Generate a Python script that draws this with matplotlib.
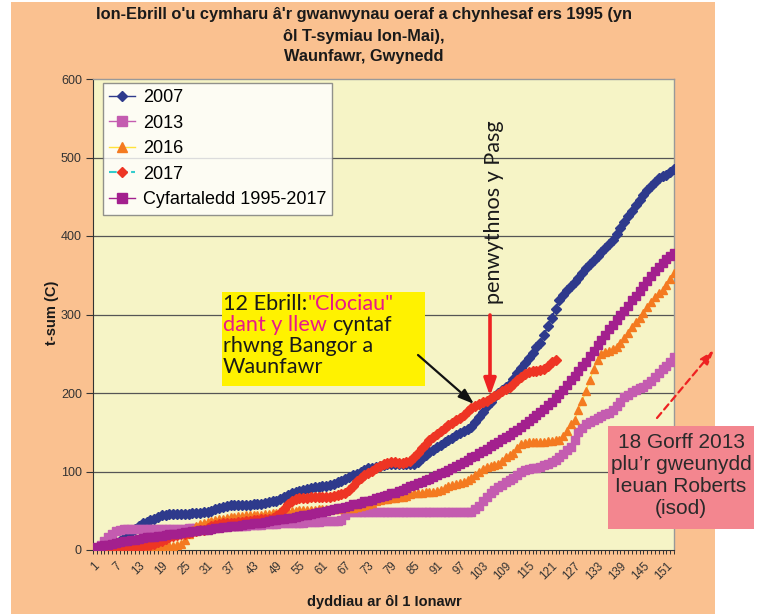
import numpy as np
import matplotlib
matplotlib.use("Agg")
import matplotlib.pyplot as plt
from matplotlib.lines import Line2D
from matplotlib.patches import Rectangle, FancyArrowPatch

W, H = 764, 614

# ---------------- data (t-sum, deg C, per day after 1 Jan) ----------------
days = list(range(1, 154))

tsum_2007 = [
    0, 1, 2, 3, 4, 6, 8, 11, 15, 19,
    23, 27, 31, 34, 36, 38, 40, 42, 44, 45,
    46, 46, 46, 46, 46, 46, 47, 47, 47, 48,
    49, 50, 52, 54, 55, 56, 57, 57, 57, 57,
    57, 57, 58, 58, 59, 60, 61, 62, 63, 65,
    67, 70, 72, 74, 75, 77, 78, 79, 80, 80,
    81, 82, 83, 84, 86, 88, 90, 93, 95, 97,
    100, 102, 104, 105, 106, 107, 108, 109, 110, 110,
    110, 109, 109, 109, 110, 112, 117, 121, 125, 128,
    131, 134, 137, 140, 143, 146, 149, 151, 154, 157,
    163, 170, 176, 183, 189, 195, 200, 204, 208, 212,
    218, 225, 232, 238, 245, 251, 258, 264, 274, 285,
    296, 307, 318, 325, 331, 336, 342, 347, 353, 359,
    364, 370, 375, 380, 385, 390, 395, 402, 410, 418,
    425, 432, 439, 446, 452, 459, 464, 469, 474, 476,
    478, 481, 485]

tsum_2013 = [
    0, 3, 7, 12, 17, 21, 24, 26, 27, 27,
    27, 27, 27, 27, 27, 27, 27, 27, 27, 27,
    27, 27, 27, 27, 27, 28, 28, 28, 28, 29,
    29, 29, 29, 30, 30, 30, 30, 31, 31, 31,
    31, 32, 32, 32, 32, 33, 33, 33, 33, 34,
    34, 34, 35, 35, 35, 35, 36, 36, 36, 36,
    37, 37, 37, 37, 37, 38, 44, 48, 48, 48,
    48, 48, 48, 48, 48, 48, 48, 48, 48, 48,
    48, 48, 48, 48, 48, 48, 48, 48, 48, 48,
    48, 48, 48, 48, 48, 48, 48, 48, 48, 49,
    52, 56, 62, 68, 72, 76, 80, 83, 86, 89,
    92, 96, 100, 102, 103, 104, 105, 106, 108, 110,
    112, 115, 118, 122, 127, 131, 140, 150, 156, 160,
    163, 166, 168, 171, 173, 175, 178, 183, 189, 195,
    198, 201, 204, 207, 208, 211, 215, 220, 225, 230,
    235, 240, 246]

tsum_2016 = [
    0, 0, 0, 0, 0, 0, 0, 1, 1, 1,
    2, 2, 2, 3, 3, 3, 4, 4, 4, 5,
    5, 5, 6, 8, 13, 20, 26, 30, 33, 35,
    36, 37, 38, 39, 40, 41, 42, 42, 43, 43,
    44, 44, 44, 45, 45, 46, 46, 47, 47, 48,
    48, 49, 50, 50, 51, 51, 51, 51, 51, 52,
    52, 52, 52, 52, 52, 53, 53, 53, 54, 55,
    56, 57, 58, 60, 62, 64, 65, 65, 66, 66,
    67, 68, 69, 71, 73, 73, 73, 74, 74, 74,
    75, 77, 79, 81, 83, 84, 85, 87, 89, 92,
    96, 100, 103, 106, 107, 108, 110, 114, 118, 121,
    124, 130, 135, 136, 137, 137, 138, 138, 138, 139,
    139, 140, 140, 145, 152, 160, 166, 178, 190, 203,
    217, 230, 242, 250, 252, 254, 256, 259, 264, 270,
    277, 284, 290, 296, 302, 310, 316, 322, 327, 331,
    338, 345, 353]

days_2017 = list(range(1, 123))
tsum_2017 = [
    0, 0, 0, 0, 0, 0, 0, 0, 1, 1,
    2, 3, 4, 5, 6, 7, 8, 10, 12, 14,
    16, 18, 19, 20, 21, 22, 23, 24, 25, 26,
    28, 30, 32, 33, 34, 34, 35, 35, 36, 36,
    37, 37, 38, 38, 39, 39, 40, 41, 43, 47,
    52, 58, 63, 65, 66, 66, 66, 67, 67, 67,
    67, 68, 68, 69, 70, 71, 73, 76, 82, 88,
    92, 95, 98, 101, 104, 107, 110, 111, 112, 112,
    111, 111, 112, 114, 119, 124, 130, 135, 140, 144,
    148, 152, 156, 159, 162, 165, 168, 172, 177, 181,
    184, 186, 188, 190, 193, 196, 199, 202, 205, 208,
    212, 216, 220, 224, 227, 228, 228, 229, 231, 235,
    239, 242]

tsum_avg = [
    3, 4, 5, 6, 7, 8, 9, 10, 11, 12,
    13, 13, 14, 15, 16, 16, 17, 18, 18, 19,
    20, 21, 21, 22, 23, 23, 24, 24, 25, 26,
    26, 27, 28, 28, 29, 29, 30, 31, 31, 32,
    33, 33, 34, 35, 35, 36, 37, 38, 38, 39,
    40, 41, 41, 42, 43, 44, 45, 46, 47, 48,
    49, 50, 51, 52, 53, 54, 55, 56, 58, 59,
    60, 62, 63, 64, 66, 67, 69, 70, 72, 73,
    75, 77, 79, 81, 83, 85, 87, 89, 91, 93,
    95, 98, 100, 102, 105, 107, 110, 112, 115, 118,
    120, 123, 126, 129, 132, 135, 138, 141, 144, 147,
    150, 153, 157, 160, 164, 168, 172, 176, 180, 185,
    189, 194, 199, 204, 210, 216, 222, 228, 234, 240,
    247, 254, 261, 268, 274, 281, 287, 293, 299, 305,
    311, 318, 324, 330, 336, 343, 349, 355, 360, 366,
    371, 375, 378]

series_labels = ["2007", "2013", "2016", "2017", "Cyfartaledd 1995-2017"]
x_tick_days = list(range(1, 152, 6))
y_ticks = [0, 100, 200, 300, 400, 500, 600]

# ---------------- styles ----------------
C07 = "#2E3A8C"
C13 = "#C45CB0"
C16_M = "#F47A20"
C16_L = "#FFE23A"
C17_M = "#EE3524"
C17_L = "#33CCCC"
CAVG = "#A3208E"
BG_ORANGE = "#FAC190"
BG_PLOT = "#F6F4C6"

def fx(px):
    return px / W

def fy(py):
    return 1 - py / H

fig = plt.figure(figsize=(W / 100, H / 100), dpi=100, facecolor="white")
fig.patches.append(Rectangle((fx(11), 0), fx(715) - fx(11), fy(2), transform=fig.transFigure,
                             facecolor=BG_ORANGE, edgecolor="none", zorder=-10))

ax = fig.add_axes([fx(93), fy(550), fx(674) - fx(93), fy(79) - fy(550)])
ax.set_facecolor(BG_PLOT)

ax.plot(days, tsum_2007, color=C07, lw=1.2, marker="D", ms=4.8, mfc=C07, mec=C07, zorder=3)
ax.plot(days, tsum_2013, color=C13, lw=1.2, marker="s", ms=5.8, mfc=C13, mec=C13, zorder=4)
ax.plot(days, tsum_2016, color=C16_L, lw=0.8, marker="^", ms=5.8, mfc=C16_M, mec=C16_M, zorder=5)
ax.plot(days_2017, tsum_2017, color=C17_L, lw=0.8, ls="--", marker="D", ms=4.6, mfc=C17_M, mec=C17_M, zorder=6)
ax.plot(days, tsum_avg, color=CAVG, lw=1.2, marker="s", ms=5.8, mfc=CAVG, mec=CAVG, zorder=7)

ax.set_xlim(1, 153)
ax.set_ylim(0, 600)
ax.set_yticks(y_ticks)
ax.set_yticklabels([str(v) for v in y_ticks], fontsize=9, color="#333333", family="Liberation Sans")
ax.set_xticks(x_tick_days)
ax.set_xticklabels([str(d) for d in x_tick_days], fontsize=8.3, color="#333333", family="Liberation Sans",
                   rotation=45, ha="right", va="top", rotation_mode="anchor")
ax.set_xticks(days, minor=True)
ax.tick_params(axis="x", which="both", direction="out", length=3, width=0.7, color="#333333", pad=4)
ax.tick_params(axis="y", direction="out", length=5, width=0.8, color="#333333", pad=3)
for y in y_ticks[1:-1]:
    ax.axhline(y, color="#555555", lw=0.9, zorder=1)
for s in ["top", "right"]:
    ax.spines[s].set_color("#999999")
    ax.spines[s].set_linewidth(1)
ax.spines["left"].set_color("#333333")
ax.spines["bottom"].set_color("#333333")

# title
title_lines = ["Ion-Ebrill o'u cymharu â'r gwanwynau oeraf a chynhesaf ers 1995 (yn",
               "ôl T-symiau Ion-Mai),",
               "Waunfawr, Gwynedd"]
for t, yy in zip(title_lines, [15, 36, 57]):
    fig.text(fx(364), fy(yy), t, ha="center", va="center", fontsize=11.8, fontweight="bold",
             family="Liberation Sans", color="#1a1a1a")

fig.text(fx(52), fy(313), "t-sum (C)", rotation=90, ha="center", va="center", fontsize=10.5,
         fontweight="bold", family="Liberation Sans", color="#1a1a1a")
fig.text(fx(384), fy(602), "dyddiau ar ôl 1 Ionawr", ha="center", va="center", fontsize=10.5,
         fontweight="bold", family="Liberation Sans", color="#1a1a1a")

# legend
handles = [
    Line2D([], [], color=C07, marker="D", ms=5, lw=1),
    Line2D([], [], color=C13, marker="s", ms=7, lw=1),
    Line2D([], [], color=C16_L, marker="^", ms=7, mfc=C16_M, mec=C16_M, lw=1),
    Line2D([], [], color=C17_L, ls="--", marker="D", ms=5, mfc=C17_M, mec=C17_M, lw=1.5),
    Line2D([], [], color=CAVG, marker="s", ms=7, lw=1),
]
leg = fig.legend(handles, series_labels, loc="upper left", bbox_to_anchor=(fx(103), fy(83)),
                 frameon=True, fancybox=False, prop={"family": "Liberation Sans", "size": 13},
                 handlelength=1.45, handletextpad=0.4, labelspacing=0.47, borderpad=0.35,
                 borderaxespad=0)
leg.get_frame().set_edgecolor("#777777")
leg.get_frame().set_linewidth(1)
leg.get_frame().set_facecolor("white")

# yellow annotation box with multi-coloured text
fig.patches.append(Rectangle((fx(222), fy(386)), fx(425) - fx(222), fy(292) - fy(386),
                             transform=fig.transFigure, facecolor="#FFF200", edgecolor="none", zorder=5))
renderer = fig.canvas.get_renderer()
BOXFONT = "Lato"
BOXSIZE = 15.6
MAG = "#E8198B"

def width_of(s):
    t = fig.text(0, 0, s, fontsize=BOXSIZE, family=BOXFONT)
    w = t.get_window_extent(renderer).width
    t.remove()
    return w

space_w = width_of("a a") - width_of("aa")

def runs_line(runs, x_px, y_px):
    x = x_px
    for s, c, gap in runs:
        if gap:
            x += space_w
        fig.text(fx(x), fy(y_px), s, color=c, fontsize=BOXSIZE, family=BOXFONT,
                 ha="left", va="baseline", zorder=6)
        x += width_of(s)

runs_line([("12 Ebrill:", "#1a1a1a", False), ('"Clociau"', MAG, False)], 223, 310)
runs_line([("dant y llew", MAG, False), ("cyntaf", "#1a1a1a", True)], 223, 331)
runs_line([("rhwng Bangor a", "#1a1a1a", False)], 223, 352)
runs_line([("Waunfawr", "#1a1a1a", False)], 223, 373)

fig.text(fx(494), fy(212), "penwythnos y Pasg", rotation=90, ha="center", va="center",
         fontsize=BOXSIZE, family=BOXFONT, color="#1a1a1a")

# arrows (figure pixel coordinates)
def fig_arrow(p0, p1, color, lw, ls="-", hw=8, hl=12):
    hw_pt = hw / 2 * 0.72
    hl_pt = hl * 0.72
    a = FancyArrowPatch((fx(p0[0]), fy(p0[1])), (fx(p1[0]), fy(p1[1])), transform=fig.transFigure,
                        arrowstyle=f"-|>,head_width={hw_pt:.2f},head_length={hl_pt:.2f}",
                        color=color, lw=lw, linestyle=ls, mutation_scale=1, zorder=8,
                        shrinkA=0, shrinkB=0)
    fig.patches.append(a)

fig_arrow((490, 315), (490, 396), "#EE2222", 2.6, hw=10, hl=14)
fig_arrow((418, 355), (474, 404), "#111111", 1.6, hw=9, hl=13)
fig_arrow((657, 418), (714, 350), "#EE2222", 1.6, ls=(0, (3, 2)), hw=8, hl=12)

# pink box
fig.patches.append(Rectangle((fx(608), fy(529)), fx(754) - fx(608), fy(426) - fy(529),
                             transform=fig.transFigure, facecolor="#F3868F", edgecolor="none", zorder=5))
for t, yy in zip(["18 Gorff 2013", "plu\u2019r gweunydd", "Ieuan Roberts", "(isod)"],
                 [443, 465, 487, 508]):
    fig.text(fx(681), fy(yy), t, ha="center", va="center", fontsize=15,
             family="Liberation Sans", color="#2a2a2a", zorder=6)

fig.savefig("out.png", dpi=100, facecolor="white")
